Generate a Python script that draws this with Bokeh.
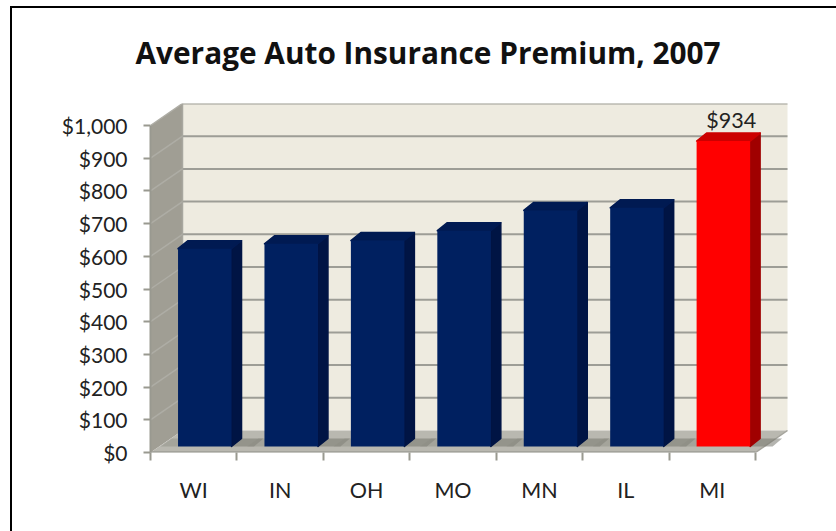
from bokeh.plotting import figure
from bokeh.embed import file_html
from bokeh.resources import INLINE
from bokeh.models import FixedTicker, InlineStyleSheet, Label, Range1d, NumeralTickFormatter

# ---- data ----
states = ["WI", "IN", "OH", "MO", "MN", "IL", "MI"]
premiums = [605, 620, 630, 660, 722, 730, 934]
y_ticks = [0, 100, 200, 300, 400, 500, 600, 700, 800, 900, 1000]
label_value = 934

# ---- 3-D geometry, in data units ----
PX_X = 86.43            # px per category
PX_Y = 0.327            # px per dollar
DX, DY = 32 / PX_X, 22 / PX_Y        # full chart depth
FDX, FDY = 11.5 / PX_X, 6 / PX_Y     # bar front plane depth
BDX, BDY = 21.5 / PX_X, 14 / PX_Y    # bar back plane depth
BAR_W = 53.5 / PX_X
N = len(states)

W, H = 836, 531
FONT = "Lato"
p = figure(width=W, height=H, output_backend="svg", toolbar_location=None,
           x_range=Range1d(0, 638 / PX_X), y_range=Range1d(0, 349 / PX_Y),
           min_border_left=150, min_border_right=48, min_border_top=103, min_border_bottom=79,
           title="Average Auto Insurance Premium, 2007")
p.outline_line_color = None
p.grid.visible = False
p.background_fill_color = "white"
p.border_fill_color = "white"

p.title.text_font = "Open Sans"
p.title.text_font_size = "29.8px"
p.title.text_font_style = "bold"
p.title.text_color = "#111111"
p.title.align = "left"
p.title.offset = -15
p.title.vertical_align = "top"
p.title.standoff = 58

WALL = "#eeebe0"
SIDE = "#a09e94"
FLOOR = "#b9b8b0"
GRID = "#9d9d96"

# walls and floor
p.patch([0, DX, DX, 0], [0, DY, 1000 + DY, 1000], fill_color=SIDE, line_color=None)
p.patch([DX, N + DX, N + DX, DX], [DY, DY, 1000 + DY, 1000 + DY], fill_color=WALL, line_color=None)
p.patch([0, N, N + DX, DX], [0, 0, DY, DY], fill_color=FLOOR, line_color=None)

# gridlines
for v in y_ticks:
    if v > 0:
        p.line([0, DX], [v, v + DY], line_color="#aeada5", line_width=1.5)
        p.line([DX, N + DX], [v + DY, v + DY], line_color=GRID, line_width=2)
p.line([DX, DX], [DY, 1000 + DY], line_color="#a8a79f", line_width=1.5)
p.line([N, N + DX], [0, DY], line_color="#a5a49c", line_width=1.5)
p.line([0, N], [0, 0], line_color=GRID, line_width=2.5)

# bars
for i, (s, v) in enumerate(zip(states, premiums)):
    front, side, top = ("#ff0000", "#a00000", "#cc0000") if s == "MI" else ("#002060", "#001444", "#001a52")
    x0 = i + 0.5 - BAR_W / 2 + 0.128
    x1 = x0 + BAR_W
    # floor shadow
    p.patch([x1, x1 + 0.26, x1 + 0.37, x1 + (BDX - FDX)],
            [FDY, FDY, BDY, BDY], fill_color="#77766e", fill_alpha=0.55, line_color=None)
    p.patch([x0 - 0.2, x0, x0 + (BDX - FDX), x0 - 0.07],
            [FDY, FDY, BDY, BDY], fill_color="#8c8b83", fill_alpha=0.45, line_color=None)
    # side, top, front faces
    p.patch([x1, x1 + (BDX - FDX), x1 + (BDX - FDX), x1],
            [FDY, BDY, v + BDY, v + FDY], fill_color=side, line_color=side, line_width=1.5, line_join="round")
    p.patch([x0, x1, x1 + (BDX - FDX), x0 + (BDX - FDX)],
            [v + FDY, v + FDY, v + BDY, v + BDY], fill_color=top, line_color=top, line_width=1.5, line_join="round")
    p.quad(left=x0, right=x1, bottom=FDY, top=v + FDY, fill_color=front, line_color=None)

# data label
p.add_layout(Label(x=6 + 0.5 + 0.22, y=label_value + BDY + 1, text="$" + str(label_value),
                   text_font=FONT, text_font_size="21.5px", text_color="#222222",
                   text_align="center", text_baseline="bottom"))

# axes
ya = p.yaxis[0]
ya.ticker = FixedTicker(ticks=y_ticks, minor_ticks=[])
ya.formatter = NumeralTickFormatter(format="$0,0")
ya.bounds = (0, 1000)
ya.axis_line_color = "#999990"
ya.axis_line_width = 2
ya.major_tick_line_color = "#999990"
ya.major_tick_line_width = 2
ya.major_tick_out = 7
ya.major_tick_in = 0
ya.minor_tick_line_color = None
ya.major_label_standoff = 16
ya.major_label_text_font = FONT
ya.major_label_text_font_size = "21px"
ya.major_label_text_color = "#222222"

xa = p.xaxis[0]
centers = [i + 0.5 for i in range(N)]
xa.ticker = FixedTicker(ticks=centers, minor_ticks=list(range(N + 1)))
xa.major_label_overrides = {c: s for c, s in zip(centers, states)}
xa.axis_line_color = None
xa.major_tick_line_color = None
xa.major_tick_out = 0
xa.major_tick_in = 0
xa.minor_tick_line_color = "#999990"
xa.minor_tick_line_width = 2
xa.minor_tick_out = 8
xa.minor_tick_in = 0
xa.major_label_standoff = 16
xa.major_label_text_font = FONT
xa.major_label_text_font_size = "21.5px"
xa.major_label_text_color = "#222222"

# slide frame: left and top black rules
p.stylesheets = [InlineStyleSheet(css=":host::after{content:'';position:absolute;left:10px;top:6px;right:0;bottom:0;"
                                      "border-left:2px solid #000;border-top:2px solid #000;pointer-events:none;}")]

open("out.html", "w").write(file_html(p, INLINE))
